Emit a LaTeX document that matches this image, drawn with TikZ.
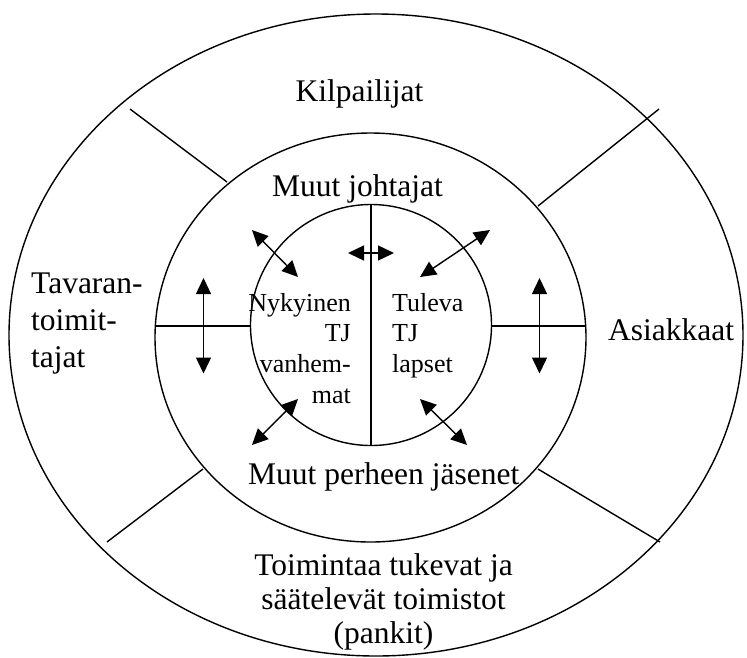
\documentclass[tikz,border=0pt]{standalone}
\usepackage{fontspec}
\setmainfont{Liberation Serif}
\usetikzlibrary{arrows.meta}
\begin{document}
\begin{tikzpicture}[x=1pt,y=-1pt,
  ring/.style={draw, line width=1.4pt},
  divider/.style={draw, line width=1.4pt},
  big/.style={font=\fontsize{31.5}{37}\selectfont, inner sep=0pt},
  small/.style={font=\fontsize{26}{30.7}\selectfont, inner sep=0pt},
  link/.style={{Triangle[length=16pt,width=15pt]}-{Triangle[length=16pt,width=15pt]}, line width=1.4pt}
]
\useasboundingbox (0,0) rectangle (747,657);

% three rings: stakeholders, family firm, management core
\draw[ring] (376,335) ellipse [x radius=367pt, y radius=321pt];
\draw[ring] (370.5,337.5) ellipse [x radius=215.5pt, y radius=204.5pt];
\draw[ring] (371,325) circle [radius=120.5pt];

% dividers
\draw[divider] (371,204.5) -- (371,445.5);
\draw[divider] (155,326) -- (250.5,326);
\draw[divider] (491.5,326) -- (586,326);
\draw[divider] (130,109) -- (227,182);
\draw[divider] (659,109) -- (538,206);
\draw[divider] (203,469) -- (107,542);
\draw[divider] (538,469) -- (660,542);

% labels of the outer ring (multi-line nodes sit on the baseline of their last line)
\node[big, anchor=base] (kil) at (359.5,101.7) {Kilpailijat};
\node[big, anchor=base west, align=left] (tav) at (31,367) {Tavaran-\\toimit-\\tajat};
\node[big, anchor=base west] (asi) at (608,340) {Asiakkaat};
\node[big, anchor=base, align=center, font=\fontsize{31.5}{34}\selectfont] (toi) at (383.5,643) {Toimintaa tukevat ja\\säätelevät toimistot\\(pankit)};

% labels of the middle ring
\node[big, anchor=base] (mjo) at (357.5,196) {Muut johtajat};
\node[big, anchor=base] (mpe) at (383.7,484.3) {Muut perheen jäsenet};

% labels of the core
\node[small, anchor=base east, align=right] (nyk) at (351,403.2) {Nykyinen\\TJ\\vanhem-\\mat};
\node[small, anchor=base west, align=left] (tul) at (392,372.5) {Tuleva\\TJ\\lapset};

% interaction arrows
\coordinate (a1) at (252,230);  \coordinate (b1) at (298,277);
\coordinate (a2) at (348,253);  \coordinate (b2) at (394,253);
\coordinate (a3) at (420,277);  \coordinate (b3) at (490,230);
\coordinate (a4) at (298,399);  \coordinate (b4) at (252,445);
\coordinate (a5) at (420,399);  \coordinate (b5) at (467,445);
\coordinate (a6) at (203.5,278); \coordinate (b6) at (203.5,373.5);
\coordinate (a7) at (539.5,278); \coordinate (b7) at (539.5,373.5);
\foreach \i in {1,...,7} \draw[link] (a\i) -- (b\i);
\end{tikzpicture}
\end{document}
